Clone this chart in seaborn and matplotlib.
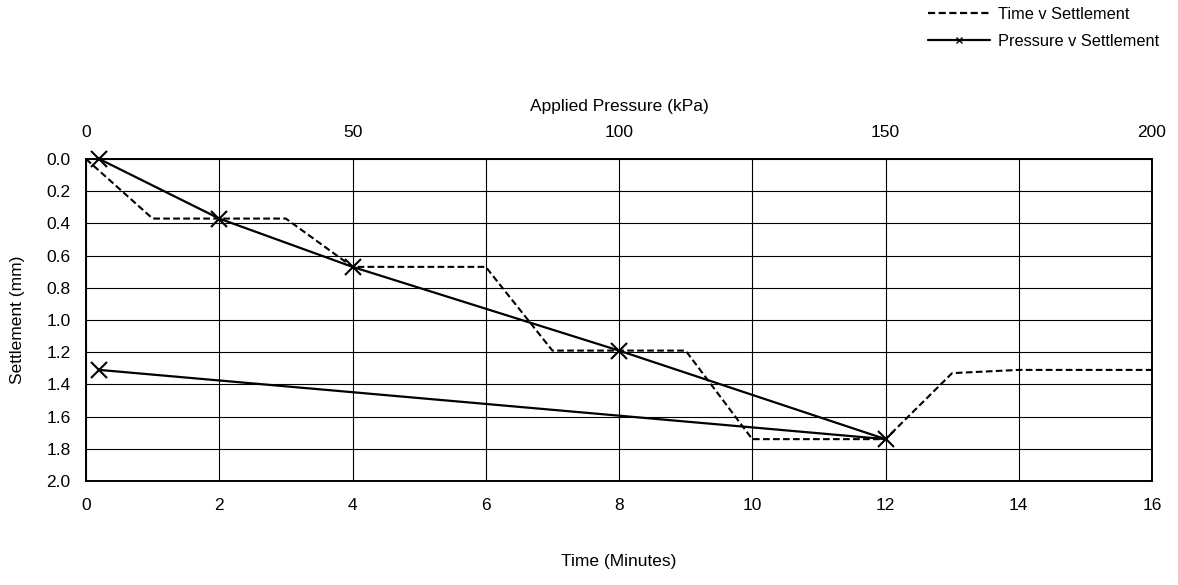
import matplotlib
matplotlib.use("Agg")
import matplotlib.pyplot as plt
from matplotlib.lines import Line2D
import seaborn as sns
import pandas as pd

# Time v settlement record
time_min = [0, 1, 3, 4, 6, 7, 9, 10, 12, 13, 14, 16]
time_settlement = [0.0, 0.37, 0.37, 0.67, 0.67, 1.19, 1.19, 1.74, 1.74, 1.33, 1.31, 1.31]

# Pressure v settlement (load steps then unload)
pressure_kpa = [2.5, 25, 50, 100, 150, 2.5]
pressure_settlement = [0.0, 0.37, 0.67, 1.19, 1.74, 1.31]

time_ticks = [0, 2, 4, 6, 8, 10, 12, 14, 16]
pressure_ticks = [0, 50, 100, 150, 200]
settlement_ticks = [0.0, 0.2, 0.4, 0.6, 0.8, 1.0, 1.2, 1.4, 1.6, 1.8, 2.0]

sns.set_style("white")
plt.rcParams["font.family"] = ["Liberation Sans", "DejaVu Sans"]
plt.rcParams["text.color"] = "black"
plt.rcParams["axes.labelcolor"] = "black"
plt.rcParams["xtick.color"] = "black"
plt.rcParams["ytick.color"] = "black"

W, H = 1178, 585
fig = plt.figure(figsize=(W / 100, H / 100), dpi=100)
ax = fig.add_axes([86 / W, 1 - 481 / H, (1152 - 86) / W, (481 - 159) / H])

df_time = pd.DataFrame({"t": time_min, "s": time_settlement})
df_pres = pd.DataFrame({"p": pressure_kpa, "s": pressure_settlement})

ax.grid(True, color="black", linewidth=0.8)
ax.set_axisbelow(True)

sns.lineplot(data=df_time, x="t", y="s", ax=ax, sort=False, estimator=None,
             color="black", linewidth=1.5, legend=False)
ax.lines[-1].set_dashes((3.2, 1.6))

ax.set_xlim(0, 16)
ax.set_ylim(2.0, 0.0)
ax.set_xticks(time_ticks)
ax.set_yticks(settlement_ticks)
ax.set_yticklabels([f"{v:.1f}" for v in settlement_ticks])
ax.tick_params(axis="x", length=0, pad=12, labelsize=12.5, colors="black")
ax.tick_params(axis="y", length=0, pad=11, labelsize=12.5, colors="black")
ax.set_xlabel("Time (Minutes)", fontsize=12.5, color="black")
ax.set_ylabel("Settlement (mm)", fontsize=12.5, color="black")
ax.xaxis.set_label_coords(0.5, -0.228)
ax.yaxis.set_label_coords(-0.057, 0.5)

ax2 = ax.twiny()
sns.lineplot(data=df_pres, x="p", y="s", ax=ax2, sort=False, estimator=None,
             color="black", linewidth=1.6, marker="x", markersize=11,
             markeredgewidth=1.5, markeredgecolor="black", legend=False)
for ln in ax2.lines:
    ln.set_clip_on(False)
ax2.set_xlim(0, 200)
ax2.set_ylim(2.0, 0.0)
ax2.set_xticks(pressure_ticks)
ax2.tick_params(axis="x", length=0, pad=14, labelsize=12.5, colors="black")
ax2.set_xlabel("Applied Pressure (kPa)", fontsize=12.5, color="black")
ax2.xaxis.set_label_coords(0.5, 1.148)
ax2.grid(False)

for a in (ax, ax2):
    for sp in a.spines.values():
        sp.set_visible(True)
        sp.set_color("black")
        sp.set_linewidth(1.2)

handles = [
    Line2D([], [], color="black", linewidth=1.6, dashes=(3.2, 1.6)),
    Line2D([], [], color="black", linewidth=1.6, marker="x", markersize=5,
           markeredgewidth=1.0),
]
fig.legend(handles, ["Time v Settlement", "Pressure v Settlement"],
           loc="upper left", bbox_to_anchor=(928 / W, 1 - 7 / H),
           frameon=False, fontsize=11.8, handlelength=3.8, handletextpad=0.45,
           labelspacing=0.72, borderpad=0, borderaxespad=0)

fig.savefig("out.png", dpi=100)
